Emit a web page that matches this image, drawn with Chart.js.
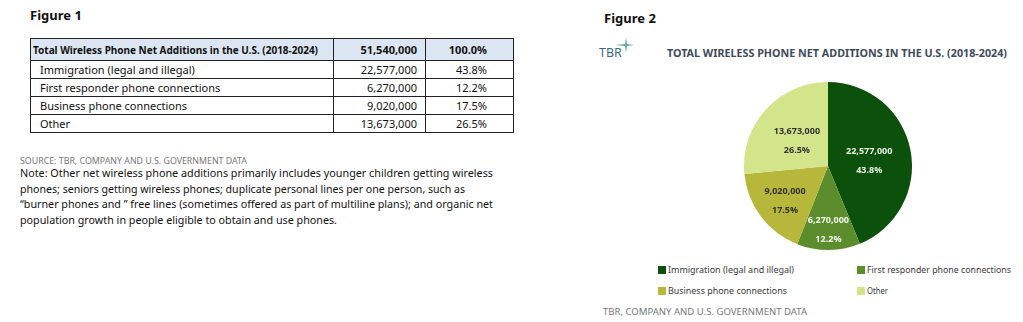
<!DOCTYPE html>
<html>
<head>
<meta charset="utf-8">
<script src="https://cdn.jsdelivr.net/npm/chart.js@4"></script>
<style>
  body { margin: 0; width: 1023px; height: 322px; background: #fff; position: relative; overflow: hidden;
         font-family: "Noto Sans", "Open Sans", sans-serif; color: #111; }
  .abs { position: absolute; white-space: nowrap; }
  .fig { font-weight: bold; font-size: 13px; }
  table { position: absolute; left: 30px; top: 38px; border-collapse: collapse; font-size: 11px;
          table-layout: fixed; width: 483px; white-space: nowrap; }
  td { border: 1px solid #222; padding: 0 8px; height: 17px; line-height: 17px; overflow: visible; }
  tr.head td { background: #dce6f2; font-weight: bold; height: 21px; }
  td.num { text-align: right; }
  td.pct { text-align: right; padding-right: 26px; }
  .src { color: #777; font-size: 8px; line-height: 10px; }
  .note { font-size: 11.5px; line-height: 15.5px; color: #111; }
  .note div { width: max-content; }
  .legend { font-size: 9.5px; color: #3a3a3a; }
  .legend i { display: inline-block; width: 8px; height: 8px; margin-right: 2px; vertical-align: -1px; }
  [data-w] { display: inline-block; transform-origin: left top; }
  .note div[data-w] { display: block; }
</style>
</head>
<body>

<div class="abs fig" style="left:30px;top:6px;">Figure 1</div>
<table id="tbl"></table>
<div class="abs src" style="left:20px;top:156px;" data-w="227">SOURCE: TBR, COMPANY AND U.S. GOVERNMENT DATA</div>
<div class="abs note" style="left:20px;top:165px;">
  <div data-w="473">Note: Other net wireless phone additions primarily includes younger children getting wireless</div>
  <div data-w="445">phones; seniors getting wireless phones; duplicate personal lines per one person, such as</div>
  <div data-w="473">“burner phones and ” free lines (sometimes offered as part of multiline plans); and organic net</div>
  <div data-w="317">population growth in people eligible to obtain and use phones.</div>
</div>

<div class="abs fig" style="left:604px;top:9px;">Figure 2</div>
<div class="abs" style="left:599px;top:44px;font-size:12.5px;color:#3d6a86;">TBR</div>
<svg class="abs" style="left:614px;top:36px;" width="22" height="18" viewBox="0 0 22 18">
  <path d="M12 1 L13 8 L20 9 L13 10 L12 17 L11 10 L1 9 L11 8 Z" fill="#5fae9a"/>
</svg>
<div class="abs" style="left:667px;top:46px;font-weight:bold;font-size:10px;color:#3d4a5a;" data-w="340">TOTAL WIRELESS PHONE NET ADDITIONS IN THE U.S. (2018-2024)</div>

<div class="abs" style="left:744px;top:82px;width:168px;height:168px;">
  <canvas id="pie"></canvas>
</div>

<div id="legend"></div>
<div class="abs src" style="left:603px;top:307px;" data-w="204">TBR, COMPANY AND U.S. GOVERNMENT DATA</div>

<script>
// Data
const categories = [
  "Immigration (legal and illegal)",
  "First responder phone connections",
  "Business phone connections",
  "Other",
];
const values = [22577000, 6270000, 9020000, 13673000];
const percents = ["43.8%", "12.2%", "17.5%", "26.5%"];
const totalLabel = "Total Wireless Phone Net Additions in the U.S. (2018-2024)";
const totalValue = 51540000;
const totalPercent = "100.0%";

const colors = ["#0b510b", "#5c8d2c", "#b6b73b", "#d3e58a"];
const labelColors = ["#e9f2e4", "#f4f8ee", "#333", "#333"];
const labelRadius = [0.5, 0.72, 0.64, 0.5];
const legendWidths = [126, 144, 119, 21];

const fmt = (v) => v.toLocaleString("en-US");

// Figure 1 table
const tbl = document.getElementById("tbl");
let rows = `<colgroup><col style="width:303px"><col style="width:92px"><col style="width:88px"></colgroup>
  <tr class="head"><td style="padding-left:2px;"><span data-w="285">${totalLabel}</span></td>
  <td class="num">${fmt(totalValue)}</td><td class="pct">${totalPercent}</td></tr>`;
categories.forEach((c, i) => {
  rows += `<tr><td style="padding-left:9px;">${c}</td><td class="num">${fmt(values[i])}</td><td class="pct">${percents[i]}</td></tr>`;
});
tbl.innerHTML = rows;

// Legend (2 x 2 grid)
const legendPos = [[658, 263], [857, 263], [658, 284], [857, 284]];
const legend = document.getElementById("legend");
categories.forEach((c, i) => {
  const d = document.createElement("div");
  d.className = "abs legend";
  d.style.left = legendPos[i][0] + "px";
  d.style.top = legendPos[i][1] + "px";
  d.innerHTML = `<i style="background:${colors[i]}"></i><span data-w="${legendWidths[i]}">${c}</span>`;
  legend.appendChild(d);
});

// Slice labels
const sliceLabels = {
  id: "sliceLabels",
  afterDatasetsDraw(chart) {
    const { ctx } = chart;
    const meta = chart.getDatasetMeta(0);
    ctx.save();
    ctx.font = "bold 9px 'Open Sans', sans-serif";
    ctx.textAlign = "center";
    ctx.textBaseline = "middle";
    meta.data.forEach((arc, i) => {
      const mid = (arc.startAngle + arc.endAngle) / 2;
      const r = arc.outerRadius * labelRadius[i];
      const x = arc.x + Math.cos(mid) * r;
      const y = arc.y + Math.sin(mid) * r + 3;
      ctx.fillStyle = labelColors[i];
      ctx.fillText(fmt(values[i]), x, y - 9.5);
      ctx.fillText(percents[i], x, y + 9.5);
    });
    ctx.restore();
  },
};

new Chart(document.getElementById("pie"), {
  type: "pie",
  data: {
    labels: categories,
    datasets: [{ data: values, backgroundColor: colors, borderWidth: 0 }],
  },
  options: {
    responsive: true,
    maintainAspectRatio: false,
    animation: false,
    layout: { padding: 0 },
    plugins: { legend: { display: false }, tooltip: { enabled: false } },
  },
  plugins: [sliceLabels],
});

// squeeze text to the widths seen in the reference
document.querySelectorAll("[data-w]").forEach((el) => {
  const w = el.getBoundingClientRect().width;
  el.style.transform = `scaleX(${+el.dataset.w / w})`;
});
</script>
</body>
</html>
